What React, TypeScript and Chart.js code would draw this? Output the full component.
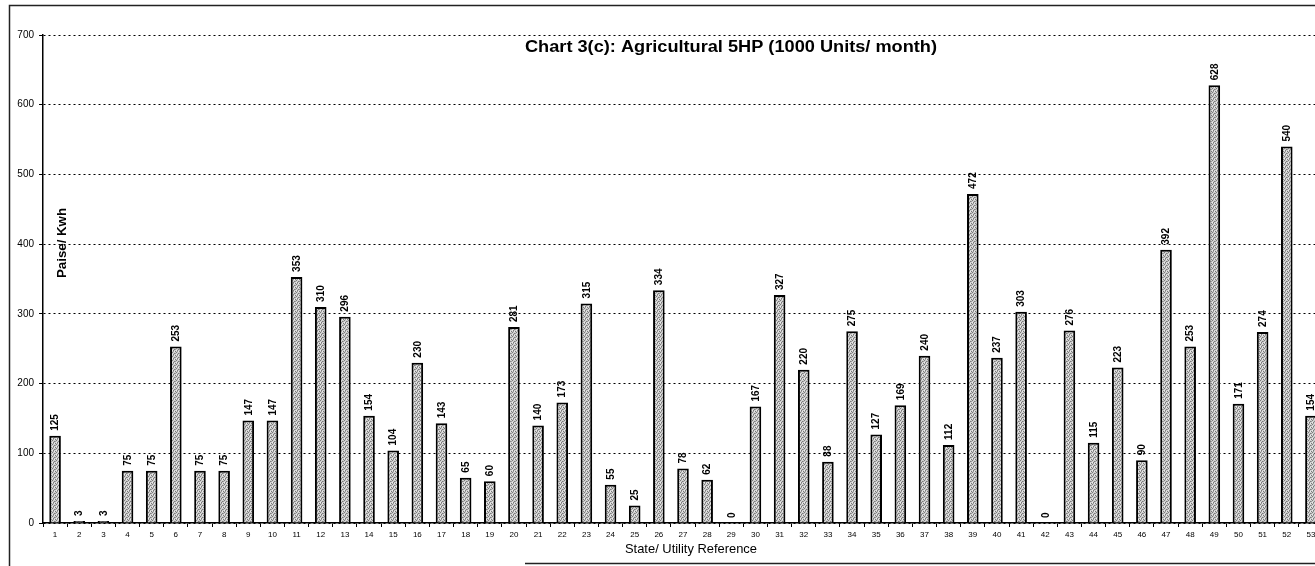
import React, { useEffect, useRef } from "react";
import { Chart, registerables } from "chart.js";

Chart.register(...registerables);

const categories: string[] = Array.from({ length: 53 }, (_, i) => String(i + 1));
const values: number[] = [
  125, 3, 3, 75, 75, 253, 75, 75, 147, 147,
  353, 310, 296, 154, 104, 230, 143, 65, 60, 281,
  140, 173, 315, 55, 25, 334, 78, 62, 0, 167,
  327, 220, 88, 275, 127, 169, 240, 112, 472, 237,
  303, 0, 276, 115, 223, 90, 392, 253, 628, 171,
  274, 540, 154,
];
const yTicks: number[] = [0, 100, 200, 300, 400, 500, 600, 700];
const chartTitle = "Chart 3(c): Agricultural 5HP (1000 Units/ month)";
const yTitle = "Paise/ Kwh";
const xTitle = "State/ Utility Reference";

const FONT = "'Liberation Sans', Arial, Helvetica, sans-serif";

function makePattern(): CanvasPattern | string {
  const c = document.createElement("canvas");
  c.width = 4;
  c.height = 4;
  const g = c.getContext("2d");
  if (!g) return "#b8b8b8";
  g.fillStyle = "#cfcfcf";
  g.fillRect(0, 0, 4, 4);
  g.fillStyle = "#7a7a7a";
  g.fillRect(0, 0, 1, 1);
  g.fillRect(2, 1, 1, 1);
  g.fillRect(1, 2, 1, 1);
  g.fillRect(3, 3, 1, 1);
  g.fillStyle = "#9a9a9a";
  g.fillRect(3, 1, 1, 1);
  g.fillRect(1, 3, 1, 1);
  g.fillStyle = "#ececec";
  g.fillRect(2, 3, 1, 1);
  g.fillRect(0, 2, 1, 1);
  const p = g.createPattern(c, "repeat");
  return p || "#b8b8b8";
}

function fillStretched(ctx: CanvasRenderingContext2D, text: string, cx: number, cy: number, width: number) {
  const w = ctx.measureText(text).width;
  ctx.save();
  ctx.translate(cx, cy);
  ctx.scale(width / w, 1);
  ctx.textAlign = "center";
  ctx.textBaseline = "middle";
  ctx.fillText(text, 0, 0);
  ctx.restore();
}

const decorPlugin = {
  id: "decor",
  beforeDraw(chart: any) {
    const ctx = chart.ctx;
    ctx.save();
    ctx.fillStyle = "#fff";
    ctx.fillRect(0, 0, chart.width, chart.height);
    ctx.restore();
  },
  afterDraw(chart: any) {
    const ctx = chart.ctx;
    ctx.save();
    // frame
    ctx.strokeStyle = "#222";
    ctx.lineWidth = 1.5;
    ctx.beginPath();
    ctx.moveTo(9.5, 566);
    ctx.lineTo(9.5, 5.5);
    ctx.lineTo(chart.width, 5.5);
    ctx.stroke();
    ctx.beginPath();
    ctx.moveTo(525, 563.5);
    ctx.lineTo(chart.width, 563.5);
    ctx.stroke();
    // title
    ctx.fillStyle = "#000";
    ctx.font = `bold 16px ${FONT}`;
    fillStretched(ctx, chartTitle, 731, 48, 412);
    // x title
    ctx.font = `13px ${FONT}`;
    fillStretched(ctx, xTitle, 691, 549, 132);
    // y title
    ctx.save();
    ctx.translate(63, 243);
    ctx.rotate(-Math.PI / 2);
    ctx.font = `bold 12px ${FONT}`;
    fillStretched(ctx, yTitle, 0, 0, 70);
    ctx.restore();
    ctx.restore();
  },
  afterDatasetsDraw(chart: any) {
    const ctx = chart.ctx;
    const meta = chart.getDatasetMeta(0);
    const data = chart.data.datasets[0].data as number[];
    ctx.save();
    ctx.fillStyle = "#000";
    ctx.font = `bold 10px ${FONT}`;
    ctx.textAlign = "left";
    ctx.textBaseline = "middle";
    meta.data.forEach((el: any, i: number) => {
      ctx.save();
      ctx.translate(el.x, el.y - 5);
      ctx.rotate(-Math.PI / 2);
      ctx.fillText(String(data[i]), 0, 0.5);
      ctx.restore();
    });
    ctx.restore();
  },
};

export default function App() {
  const ref = useRef<HTMLCanvasElement | null>(null);
  useEffect(() => {
    if (!ref.current) return;
    const chart = new Chart(ref.current, {
      type: "bar",
      data: {
        labels: categories,
        datasets: [
          {
            data: values,
            backgroundColor: makePattern() as any,
            borderColor: "#000",
            borderWidth: 2,
            barPercentage: 0.48,
            categoryPercentage: 1,
          },
        ],
      },
      options: {
        responsive: false,
        animation: false,
        events: [],
        layout: { padding: { left: 0, top: 35, right: 10, bottom: 0 } },
        plugins: {
          legend: { display: false },
          tooltip: { enabled: false },
          title: { display: false },
        },
        scales: {
          x: {
            afterFit: (s: any) => {
              s.height = 43;
            },
            grid: {
              display: true,
              drawOnChartArea: false,
              drawTicks: true,
              tickLength: 4,
              color: "#000",
              tickColor: "#000",
              offset: true,
              lineWidth: 1,
            },
            border: { display: true, color: "#000", width: 1.5 },
            ticks: {
              color: "#000",
              font: { size: 8, family: FONT },
              padding: 3,
              maxRotation: 0,
              autoSkip: false,
            },
          },
          y: {
            min: 0,
            max: 700,
            afterFit: (s: any) => {
              s.width = 43;
            },
            afterBuildTicks: (s: any) => {
              s.ticks = yTicks.map((v) => ({ value: v }));
            },
            grid: {
              color: "#000",
              lineWidth: 1,
              tickLength: 4,
              tickColor: "#000",
              tickBorderDash: [],
            },
            border: { display: true, color: "#000", width: 1.5, dash: [2, 3] },
            ticks: {
              color: "#000",
              font: { size: 10, family: FONT },
              padding: 5,
              stepSize: 100,
            },
          },
        },
      },
      plugins: [decorPlugin],
    });
    return () => chart.destroy();
  }, []);
  return (
    <div
      style={{
        position: "fixed",
        left: 0,
        top: 0,
        width: 1315,
        height: 566,
        overflow: "hidden",
        background: "#fff",
      }}
    >
      <canvas ref={ref} width={1333} height={566} style={{ display: "block" }} />
    </div>
  );
}
